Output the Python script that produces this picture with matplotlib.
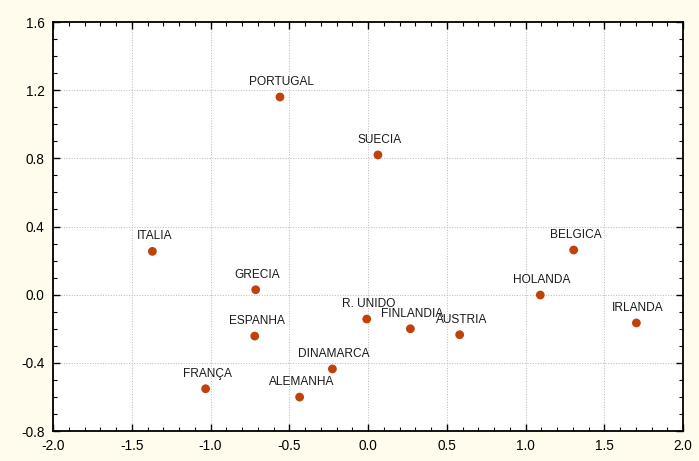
import matplotlib
matplotlib.use("Agg")
import matplotlib.pyplot as plt
from matplotlib.ticker import MultipleLocator

countries = ["PORTUGAL", "SUECIA", "ITALIA", "GRECIA", "ESPANHA", "FRANÇA",
             "ALEMANHA", "DINAMARCA", "R. UNIDO", "FINLANDIA", "AUSTRIA",
             "BELGICA", "HOLANDA", "IRLANDA"]
dim1 = [-0.559, 0.063, -1.369, -0.713, -0.719, -1.031,
        -0.434, -0.226, -0.008, 0.269, 0.582,
        1.306, 1.094, 1.704]
dim2 = [1.160, 0.820, 0.254, 0.029, -0.243, -0.552,
        -0.601, -0.436, -0.143, -0.200, -0.235,
        0.262, -0.002, -0.166]

xticks = [-2.0, -1.5, -1.0, -0.5, 0.0, 0.5, 1.0, 1.5, 2.0]
yticks = [-0.8, -0.4, 0.0, 0.4, 0.8, 1.2, 1.6]

plt.rcParams["font.family"] = ["Liberation Sans", "DejaVu Sans"]

fig = plt.figure(figsize=(6.99, 4.61), dpi=100, facecolor="#FFFCEE")
ax = fig.add_axes([53 / 699, 1 - 431 / 461, 630 / 699, 409 / 461])
ax.set_facecolor("white")

ax.scatter(dim1, dim2, s=40, color="#C0420A", edgecolor="none", zorder=3)
for name, x, y in zip(countries, dim1, dim2):
    ax.annotate(name, (x, y), xytext=(1.3, 6.5), textcoords="offset points",
                ha="center", va="bottom", fontsize=8.6, color="#1a1a1a", zorder=4)

ax.set_xlim(-2.0, 2.0)
ax.set_ylim(-0.8, 1.6)
ax.set_xticks(xticks)
ax.set_yticks(yticks)
ax.set_xticklabels([f"{t:.1f}" for t in xticks])
ax.set_yticklabels([f"{t:.1f}" for t in yticks])
ax.xaxis.set_minor_locator(MultipleLocator(0.1))
ax.yaxis.set_minor_locator(MultipleLocator(0.1))

ax.tick_params(which="both", direction="in", top=True, right=True,
               colors="black", labelsize=9.8)
ax.tick_params(which="major", length=5, width=1.0)
ax.tick_params(which="minor", length=3, width=0.8)
ax.tick_params(axis="x", which="major", pad=6)
ax.tick_params(axis="y", which="major", pad=6)

ax.grid(True, which="major", linestyle=(0, (1, 1.5)), color="#BEBEBE",
        linewidth=0.75, zorder=0)
ax.set_axisbelow(True)

for sp in ax.spines.values():
    sp.set_linewidth(1.3)
    sp.set_color("black")

fig.savefig("out.png", dpi=100, facecolor=fig.get_facecolor())
